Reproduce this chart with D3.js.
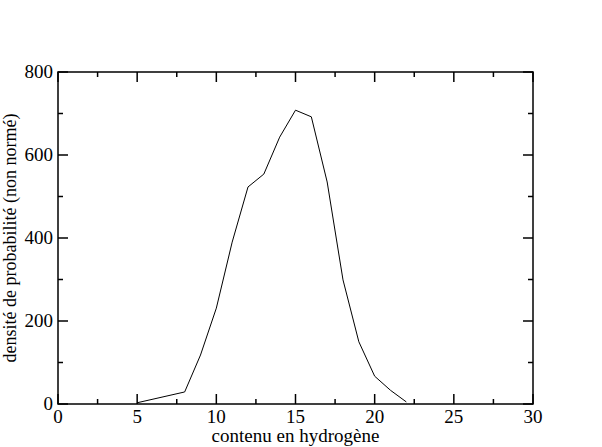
<!DOCTYPE html>
<html><head><meta charset="utf-8">
<script src="https://cdn.jsdelivr.net/npm/d3@7"></script>
<style>body{margin:0;background:#fff}</style></head>
<body><svg id="c" width="602" height="447"></svg>
<script>
const xs=[5,8,9,10,11,12,13,14,15,16,17,18,19,20,21,22];
const ys=[3,29,118,231,390,523,554,643,708,692,535,299,150,67,33,5];
const xMajor=[0,5,10,15,20,25,30], yMajor=[0,200,400,600,800];
const xLabel="contenu en hydrogène", yLabel="densité de probabilité (non normé)";
const svg=d3.select("#c");
const L=58,R=533,T=72,B=404;
const x=d3.scaleLinear().domain([0,30]).range([L,R]);
const y=d3.scaleLinear().domain([0,800]).range([B,T]);
const f="Liberation Serif";
const g=svg.append("g").attr("stroke","#000").attr("stroke-width",1.5);
const xMinor=d3.range(0,30.01,2.5), yMinor=d3.range(0,800.1,100);
xMinor.forEach(v=>{const len=xMajor.includes(v)?10:5;
 g.append("line").attr("x1",x(v)).attr("x2",x(v)).attr("y1",B).attr("y2",B-len);
 g.append("line").attr("x1",x(v)).attr("x2",x(v)).attr("y1",T).attr("y2",T+len);});
yMinor.forEach(v=>{const len=yMajor.includes(v)?10:5;
 g.append("line").attr("y1",y(v)).attr("y2",y(v)).attr("x1",L).attr("x2",L+len);
 g.append("line").attr("y1",y(v)).attr("y2",y(v)).attr("x1",R).attr("x2",R-len);});
svg.append("rect").attr("x",L).attr("y",T).attr("width",R-L).attr("height",B-T).attr("fill","none").attr("stroke","#000").attr("stroke-width",1.5);
xMajor.forEach(v=>svg.append("text").attr("x",x(v)).attr("y",B+19).attr("text-anchor","middle").attr("font-family",f).attr("font-size",19).text(v));
yMajor.forEach(v=>svg.append("text").attr("x",L-5).attr("y",y(v)+6).attr("text-anchor","end").attr("font-family",f).attr("font-size",19).text(v));
svg.append("text").attr("x",(L+R)/2).attr("y",442).attr("text-anchor","middle").attr("font-family",f).attr("font-size",19).text(xLabel);
svg.append("text").attr("transform",`translate(16,${(T+B)/2}) rotate(-90)`).attr("text-anchor","middle").attr("font-family",f).attr("font-size",18).text(yLabel);
svg.append("path").datum(xs.map((v,i)=>[v,ys[i]])).attr("fill","none").attr("stroke","#000").attr("stroke-width",1)
 .attr("d",d3.line().x(d=>x(d[0])).y(d=>y(d[1])));
</script></body></html>
